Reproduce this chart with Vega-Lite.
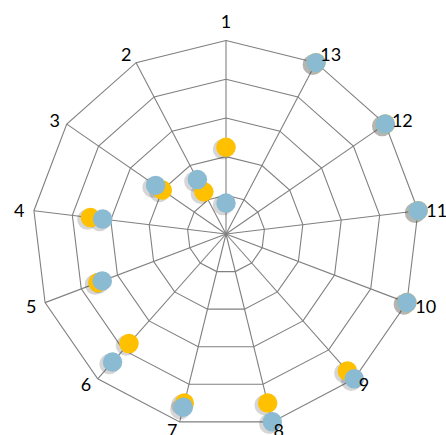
{
  "$schema": "https://vega.github.io/schema/vega-lite/v6.json",
  "width": 446,
  "height": 435,
  "autosize": {"type": "none"},
  "padding": 0,
  "background": "white",
  "config": {"view": {"stroke": null}, "text": {"font": "Lato", "fontSize": 18, "color": "#000000", "align": "center", "baseline": "middle"}},
  "datasets": {
    "vals": [
      {"spoke": 1, "s": "A", "v": 2.24},
      {"spoke": 2, "s": "A", "v": 1.23},
      {"spoke": 3, "s": "A", "v": 2.0},
      {"spoke": 4, "s": "A", "v": 3.53},
      {"spoke": 5, "s": "A", "v": 3.54},
      {"spoke": 6, "s": "A", "v": 3.78},
      {"spoke": 7, "s": "A", "v": 4.5},
      {"spoke": 8, "s": "A", "v": 4.5},
      {"spoke": 9, "s": "A", "v": 4.73},
      {"spoke": 10, "s": "A", "v": 5},
      {"spoke": 11, "s": "A", "v": 5},
      {"spoke": 12, "s": "A", "v": 5},
      {"spoke": 13, "s": "A", "v": 5},
      {"spoke": 1, "s": "B", "v": 0.8},
      {"spoke": 2, "s": "B", "v": 1.59},
      {"spoke": 3, "s": "B", "v": 2.21},
      {"spoke": 4, "s": "B", "v": 3.21},
      {"spoke": 5, "s": "B", "v": 3.42},
      {"spoke": 6, "s": "B", "v": 4.42},
      {"spoke": 7, "s": "B", "v": 4.61},
      {"spoke": 8, "s": "B", "v": 5.0},
      {"spoke": 9, "s": "B", "v": 5.0},
      {"spoke": 10, "s": "B", "v": 5},
      {"spoke": 11, "s": "B", "v": 5},
      {"spoke": 12, "s": "B", "v": 5},
      {"spoke": 13, "s": "B", "v": 5}
    ],
    "grid": [
      {"spoke": 1, "rings": [1, 2, 3, 4, 5]},
      {"spoke": 2, "rings": [1, 2, 3, 4, 5]},
      {"spoke": 3, "rings": [1, 2, 3, 4, 5]},
      {"spoke": 4, "rings": [1, 2, 3, 4, 5]},
      {"spoke": 5, "rings": [1, 2, 3, 4, 5]},
      {"spoke": 6, "rings": [1, 2, 3, 4, 5]},
      {"spoke": 7, "rings": [1, 2, 3, 4, 5]},
      {"spoke": 8, "rings": [1, 2, 3, 4, 5]},
      {"spoke": 9, "rings": [1, 2, 3, 4, 5]},
      {"spoke": 10, "rings": [1, 2, 3, 4, 5]},
      {"spoke": 11, "rings": [1, 2, 3, 4, 5]},
      {"spoke": 12, "rings": [1, 2, 3, 4, 5]},
      {"spoke": 13, "rings": [1, 2, 3, 4, 5]},
      {"spoke": 14, "rings": [1, 2, 3, 4, 5]}
    ],
    "labels": [
      {"spoke": 1, "label": "1"},
      {"spoke": 2, "label": "2"},
      {"spoke": 3, "label": "3"},
      {"spoke": 4, "label": "4"},
      {"spoke": 5, "label": "5"},
      {"spoke": 6, "label": "6"},
      {"spoke": 7, "label": "7"},
      {"spoke": 8, "label": "8"},
      {"spoke": 9, "label": "9"},
      {"spoke": 10, "label": "10"},
      {"spoke": 11, "label": "11"},
      {"spoke": 12, "label": "12"},
      {"spoke": 13, "label": "13"}
    ]
  },
  "encoding": {
    "x": {"field": "x", "type": "quantitative", "scale": {"domain": [-5.84, 5.685], "nice": false, "zero": false}, "axis": null},
    "y": {"field": "y", "type": "quantitative", "scale": {"domain": [-5.194, 6.047], "nice": false, "zero": false}, "axis": null}
  },
  "layer": [
    {
      "data": {"name": "grid"},
      "transform": [
        {"flatten": ["rings"], "as": ["ring"]},
        {"calculate": "-(datum.spoke - 1) * 2 * PI / 13", "as": "t"},
        {"calculate": "datum.ring * sin(datum.t)", "as": "x"},
        {"calculate": "datum.ring * cos(datum.t)", "as": "y"}
      ],
      "mark": {"type": "line", "color": "#808080", "strokeWidth": 1.1, "interpolate": "linear"},
      "encoding": {
        "detail": {"field": "ring", "type": "nominal"},
        "order": {"field": "spoke", "type": "quantitative"}
      }
    },
    {
      "data": {"name": "labels"},
      "transform": [
        {"calculate": "-(datum.spoke - 1) * 2 * PI / 13", "as": "t"},
        {"calculate": "5 * sin(datum.t)", "as": "x"},
        {"calculate": "5 * cos(datum.t)", "as": "y"}
      ],
      "mark": {"type": "rule", "color": "#808080", "strokeWidth": 1.1},
      "encoding": {
        "x": {"datum": 0, "type": "quantitative"},
        "y": {"datum": 0, "type": "quantitative"},
        "x2": {"field": "x"},
        "y2": {"field": "y"}
      }
    },
    {
      "data": {"name": "vals"},
      "transform": [
        {"calculate": "-(datum.spoke - 1) * 2 * PI / 13", "as": "t"},
        {"calculate": "datum.v * sin(datum.t)", "as": "x"},
        {"calculate": "datum.v * cos(datum.t)", "as": "y"}
      ],
      "mark": {"type": "point", "filled": true, "shape": "circle", "size": 420, "color": "#303030", "opacity": 0.2, "xOffset": -3, "yOffset": 2},
      "encoding": {}
    },
    {
      "data": {"name": "vals"},
      "transform": [
        {"calculate": "-(datum.spoke - 1) * 2 * PI / 13", "as": "t"},
        {"calculate": "datum.v * sin(datum.t)", "as": "x"},
        {"calculate": "datum.v * cos(datum.t)", "as": "y"}
      ],
      "mark": {"type": "point", "filled": true, "shape": "circle", "size": 380, "opacity": 1},
      "encoding": {
        "color": {"field": "s", "type": "nominal", "scale": {"domain": ["A", "B"], "range": ["#FFC000", "#8BBAD3"]}, "legend": null}
      }
    },
    {
      "data": {"name": "labels"},
      "transform": [
        {"calculate": "-(datum.spoke - 1) * 2 * PI / 13", "as": "t"},
        {"calculate": "5.38 * sin(datum.t)", "as": "x"},
        {"calculate": "5.38 * cos(datum.t)", "as": "y"}
      ],
      "encoding": {"text": {"field": "label"}},
      "layer": [
        {"transform": [{"filter": "datum.spoke == 1"}], "mark": {"type": "text", "dy": -3}},
        {"transform": [{"filter": "datum.spoke == 2"}], "mark": {"type": "text", "dy": 6, "dx": -3}},
        {"transform": [{"filter": "datum.spoke == 3"}], "mark": {"type": "text", "dy": 6, "dx": 0}},
        {"transform": [{"filter": "datum.spoke == 4"}], "mark": {"type": "text", "dy": 3, "dx": 0}},
        {"transform": [{"filter": "datum.spoke == 5"}], "mark": {"type": "text", "dy": 0, "dx": 0}},
        {"transform": [{"filter": "datum.spoke == 6"}], "mark": {"type": "text", "dy": -4, "dx": -2}},
        {"transform": [{"filter": "datum.spoke == 7"}], "mark": {"type": "text", "dy": -4, "dx": -4}},
        {"transform": [{"filter": "datum.spoke == 8"}], "mark": {"type": "text", "dy": -4, "dx": 3}},
        {"transform": [{"filter": "datum.spoke == 9"}], "mark": {"type": "text", "dy": -4, "dx": 0}},
        {"transform": [{"filter": "datum.spoke == 10"}], "mark": {"type": "text", "dy": 0, "dx": 5}},
        {"transform": [{"filter": "datum.spoke == 11"}], "mark": {"type": "text", "dy": 3, "dx": 4}},
        {"transform": [{"filter": "datum.spoke == 12"}], "mark": {"type": "text", "dy": 6, "dx": 5}},
        {"transform": [{"filter": "datum.spoke == 13"}], "mark": {"type": "text", "dy": 6, "dx": 8}}
      ]
    }
  ]
}
